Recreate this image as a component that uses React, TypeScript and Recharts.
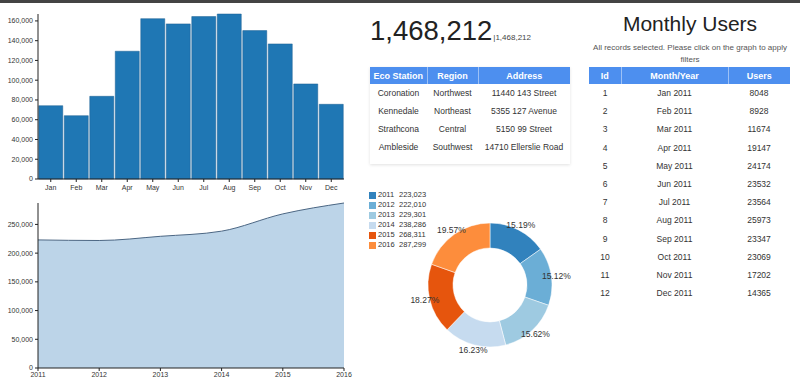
import React from "react";
import {
  BarChart,
  Bar,
  AreaChart,
  Area,
  PieChart,
  Pie,
  Cell,
  XAxis,
  YAxis,
} from "recharts";

const months = ["Jan", "Feb", "Mar", "Apr", "May", "Jun", "Jul", "Aug", "Sep", "Oct", "Nov", "Dec"];
const monthTotals = [74200, 64100, 83700, 129300, 162300, 157000, 164400, 167000, 150200, 136700, 96200, 75600];
const barTicks = [0, 20000, 40000, 60000, 80000, 100000, 120000, 140000, 160000];

const years = [2011, 2012, 2013, 2014, 2015, 2016];
const yearTotals = [223023, 222010, 229301, 238286, 268311, 287299];
const areaTicks = [0, 50000, 100000, 150000, 200000, 250000];
const yearColors = ["#3182bd", "#6baed6", "#9ecae1", "#c6dbef", "#e6550d", "#fd8d3c"];

const grandTotal = "1,468,212";

const stationNames = ["Coronation", "Kennedale", "Strathcona", "Ambleside"];
const stationRegions = ["Northwest", "Northeast", "Central", "Southwest"];
const stationAddresses = ["11440 143 Street", "5355 127 Avenue", "5150 99 Street", "14710 Ellerslie Road"];

const userIds = [1, 2, 3, 4, 5, 6, 7, 8, 9, 10, 11, 12];
const userMonths = [
  "Jan 2011", "Feb 2011", "Mar 2011", "Apr 2011", "May 2011", "Jun 2011",
  "Jul 2011", "Aug 2011", "Sep 2011", "Oct 2011", "Nov 2011", "Dec 2011",
];
const userCounts = [8048, 8928, 11674, 19147, 24174, 23532, 23564, 25973, 23347, 23069, 17202, 14365];

const font = "'Liberation Sans', Arial, sans-serif";
const headBlue = "#4d8fef";
const fmt = (v: number) => v.toLocaleString("en-US");

const monthData = months.map((m, i) => ({ month: m, total: monthTotals[i] }));
const yearData = years.map((y, i) => ({ year: y, total: yearTotals[i] }));

const RAD = Math.PI / 180;

function PctLabel(props: any) {
  const { cx, cy, midAngle, outerRadius, percent } = props;
  const r = outerRadius + 5;
  const x = cx + r * Math.cos(-midAngle * RAD);
  const y = cy + r * Math.sin(-midAngle * RAD);
  return (
    <text x={x} y={y} textAnchor="middle" dominantBaseline="central" fontSize={8.5} fill="#333" fontFamily={font}>
      {(percent * 100).toFixed(2)}%
    </text>
  );
}

const axisTick = { fontSize: 7, fill: "#333", fontFamily: font };

const th: React.CSSProperties = {
  background: headBlue,
  color: "#fff",
  fontWeight: "bold",
  fontSize: 9,
  height: 17,
  padding: 0,
  borderRight: "1px solid rgba(255,255,255,0.45)",
};

export default function App() {
  return (
    <div
      style={{
        position: "absolute",
        left: 0,
        top: 0,
        width: 800,
        height: 378,
        overflow: "hidden",
        background: "#fff",
        fontFamily: font,
      }}
    >
      <div style={{ position: "absolute", left: 0, top: 0, width: 800, height: 3, background: "#444" }} />

      {/* monthly totals */}
      <div style={{ position: "absolute", left: 0, top: 0 }}>
        <BarChart width={360} height={195} data={monthData} margin={{ top: 14, right: 16, bottom: 0, left: 0 }} barCategoryGap="3%">
          <XAxis
            dataKey="month"
            height={16}
            tick={axisTick}
            tickSize={3}
            tickMargin={3}
            stroke="#222"
            interval={0}
          />
          <YAxis
            width={38}
            domain={[0, "dataMax"]}
            ticks={barTicks}
            tickFormatter={fmt}
            tick={axisTick}
            tickSize={3}
            tickMargin={2}
            stroke="#222"
          />
          <Bar dataKey="total" fill="#1f77b4" stroke="#1a5e91" strokeWidth={0.5} isAnimationActive={false} />
        </BarChart>
      </div>

      {/* yearly totals */}
      <div style={{ position: "absolute", left: 0, top: 190 }}>
        <AreaChart width={360} height={198} data={yearData} margin={{ top: 13, right: 16, bottom: 0, left: 0 }}>
          <XAxis
            dataKey="year"
            type="number"
            domain={[2011, 2016]}
            ticks={years}
            height={20}
            tick={axisTick}
            tickSize={3}
            tickMargin={1}
            stroke="#222"
          />
          <YAxis
            width={38}
            domain={[0, "dataMax"]}
            ticks={areaTicks}
            tickFormatter={fmt}
            tick={axisTick}
            tickSize={3}
            tickMargin={2}
            stroke="#222"
          />
          <Area
            type="monotone"
            dataKey="total"
            fill="#bcd4e8"
            fillOpacity={1}
            stroke="#4b6683"
            strokeWidth={1}
            isAnimationActive={false}
          />
        </AreaChart>
      </div>

      {/* grand total */}
      <div style={{ position: "absolute", left: 370, top: 15, whiteSpace: "nowrap", color: "#222" }}>
        <span style={{ fontSize: 27.5 }}>{grandTotal}</span>
        <span style={{ fontSize: 8, color: "#444", marginLeft: 1 }}>|{grandTotal}</span>
      </div>

      {/* stations table */}
      <table
        style={{
          position: "absolute",
          left: 370,
          top: 67,
          width: 200,
          borderCollapse: "collapse",
          tableLayout: "fixed",
          fontSize: 8.5,
          color: "#333",
          textAlign: "center",
          boxShadow: "0 1px 3px rgba(0,0,0,0.12)",
        }}
      >
        <colgroup>
          <col style={{ width: 57 }} />
          <col style={{ width: 51 }} />
          <col style={{ width: 92 }} />
        </colgroup>
        <thead>
          <tr>
            <th style={th}>Eco Station</th>
            <th style={th}>Region</th>
            <th style={{ ...th, borderRight: "none" }}>Address</th>
          </tr>
        </thead>
        <tbody>
          {stationNames.map((s, i) => (
            <tr key={s} style={{ height: 18 }}>
              <td style={{ padding: 0 }}>{s}</td>
              <td style={{ padding: 0 }}>{stationRegions[i]}</td>
              <td style={{ padding: 0 }}>{stationAddresses[i]}</td>
            </tr>
          ))}
          <tr style={{ height: 8 }}>
            <td colSpan={3} />
          </tr>
        </tbody>
      </table>

      {/* yearly donut */}
      <div style={{ position: "absolute", left: 360, top: 180 }}>
        <PieChart width={230} height={198} margin={{ top: 0, right: 0, bottom: 0, left: 0 }}>
          <Pie
            data={yearData}
            dataKey="total"
            nameKey="year"
            cx={130}
            cy={105}
            innerRadius={37}
            outerRadius={62}
            startAngle={90}
            endAngle={-270}
            stroke="#fff"
            strokeWidth={0.5}
            label={PctLabel}
            labelLine={false}
            isAnimationActive={false}
          >
            {yearData.map((d, i) => (
              <Cell key={d.year} fill={yearColors[i]} />
            ))}
          </Pie>
        </PieChart>
      </div>
      <div style={{ position: "absolute", left: 369, top: 190, fontSize: 7.5, color: "#333", lineHeight: "10px" }}>
        {years.map((y, i) => (
          <div key={y} style={{ display: "flex", alignItems: "center", height: 10 }}>
            <span style={{ width: 7, height: 7, background: yearColors[i], marginRight: 2 }} />
            <span style={{ width: 21 }}>{y}</span>
            <span>{fmt(yearTotals[i])}</span>
          </div>
        ))}
      </div>

      {/* monthly users */}
      <div style={{ position: "absolute", left: 580, top: 11, width: 220, textAlign: "center" }}>
        <div style={{ fontSize: 21, color: "#222", lineHeight: "26px" }}>Monthly Users</div>
        <div style={{ fontSize: 8, color: "#555", lineHeight: "12px", marginTop: 5, whiteSpace: "nowrap" }}>
          All records selected. Please click on the graph to apply
          <br />
          filters
        </div>
      </div>
      <table
        style={{
          position: "absolute",
          left: 589,
          top: 67,
          width: 201,
          borderCollapse: "collapse",
          tableLayout: "fixed",
          fontSize: 8.5,
          color: "#333",
          textAlign: "center",
        }}
      >
        <colgroup>
          <col style={{ width: 32 }} />
          <col style={{ width: 107 }} />
          <col style={{ width: 62 }} />
        </colgroup>
        <thead>
          <tr>
            <th style={th}>Id</th>
            <th style={th}>Month/Year</th>
            <th style={{ ...th, borderRight: "none" }}>Users</th>
          </tr>
        </thead>
        <tbody>
          {userIds.map((id, i) => (
            <tr key={id} style={{ height: 18.2 }}>
              <td style={{ padding: 0 }}>{id}</td>
              <td style={{ padding: 0 }}>{userMonths[i]}</td>
              <td style={{ padding: 0 }}>{userCounts[i]}</td>
            </tr>
          ))}
        </tbody>
      </table>
    </div>
  );
}
